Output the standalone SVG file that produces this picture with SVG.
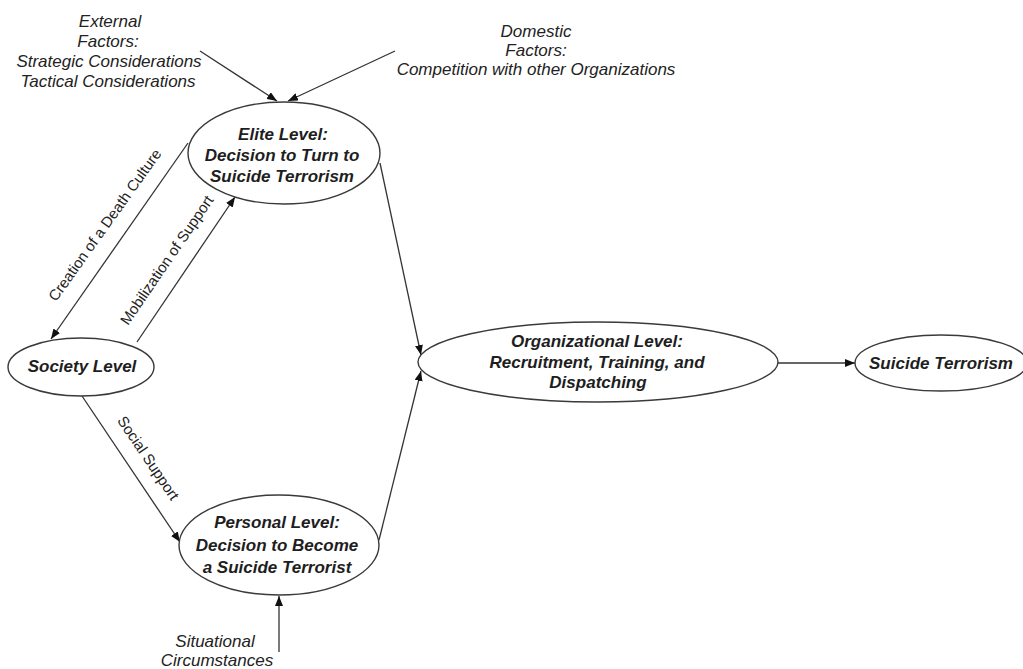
<svg xmlns="http://www.w3.org/2000/svg" width="1023" height="669" viewBox="0 0 1023 669">
<style>
.node ellipse{fill:#fff;stroke:#3a3a3a;stroke-width:1.4}
.nt{font-family:"Liberation Sans",Arial,sans-serif;font-size:17px;font-style:italic;font-weight:bold;fill:#1e1e1e;text-anchor:middle}
.lbl{font-family:"Liberation Sans",Arial,sans-serif;font-size:17px;font-style:italic;fill:#222;text-anchor:middle}
.el{font-family:"Liberation Sans",Arial,sans-serif;font-size:15px;fill:#222;text-anchor:middle}
.conn line{stroke:#333;stroke-width:1.3;marker-end:url(#ah)}
</style>
<defs>
<marker id="ah" markerUnits="userSpaceOnUse" markerWidth="10" markerHeight="8" refX="10" refY="4" orient="auto">
<path d="M0,0 L10,4 L0,8 z" fill="#111"/>
</marker>
</defs>
<rect width="1023" height="669" fill="#fff"/>
<g id="connectors" class="conn">
<line x1="200" y1="51" x2="277" y2="101"/>
<line x1="395" y1="51" x2="288" y2="101"/>
<line x1="188" y1="143" x2="51" y2="339"/>
<line x1="137" y1="342" x2="235" y2="197"/>
<line x1="380" y1="163" x2="421" y2="355"/>
<line x1="379" y1="540" x2="421" y2="371"/>
<line x1="82" y1="396" x2="180" y2="542"/>
<line x1="279" y1="652" x2="279" y2="596"/>
<line x1="778" y1="363" x2="855" y2="363"/>
</g>
<g id="labels">
<text class="lbl" x="110" y="27">External</text>
<text class="lbl" x="108" y="47">Factors:</text>
<text class="lbl" x="109" y="67">Strategic Considerations</text>
<text class="lbl" x="108" y="87">Tactical Considerations</text>
<text class="lbl" x="536" y="37">Domestic</text>
<text class="lbl" x="536" y="56">Factors:</text>
<text class="lbl" x="536" y="75">Competition with other Organizations</text>
<text class="el" transform="translate(109,228) rotate(-54.5)">Creation of a Death Culture</text>
<text class="el" transform="translate(171,263) rotate(-55.6)">Mobilization of Support</text>
<text class="el" transform="translate(144,461) rotate(55.9)">Social Support</text>
<text class="lbl" x="215" y="647">Situational</text>
<text class="lbl" x="217" y="666">Circumstances</text>
</g>
<g id="elite" class="node">
<ellipse cx="284" cy="153" rx="96" ry="51"/>
<text class="nt" x="283" y="140">Elite Level:</text>
<text class="nt" x="282" y="161">Decision to Turn to</text>
<text class="nt" x="282" y="182">Suicide Terrorism</text>
</g>
<g id="society" class="node">
<ellipse cx="81" cy="367" rx="73" ry="29"/>
<text class="nt" x="82" y="372">Society Level</text>
</g>
<g id="personal" class="node">
<ellipse cx="279" cy="545" rx="100" ry="50"/>
<text class="nt" x="277" y="528">Personal Level:</text>
<text class="nt" x="277" y="551">Decision to Become</text>
<text class="nt" x="277" y="573">a Suicide Terrorist</text>
</g>
<g id="organizational" class="node">
<ellipse cx="598" cy="362" rx="180" ry="40"/>
<text class="nt" x="597" y="347">Organizational Level:</text>
<text class="nt" x="597" y="368">Recruitment, Training, and</text>
<text class="nt" x="598" y="388">Dispatching</text>
</g>
<g id="suicide" class="node">
<ellipse cx="941" cy="363" rx="86" ry="28"/>
<text class="nt" x="941" y="369">Suicide Terrorism</text>
</g>
</svg>
